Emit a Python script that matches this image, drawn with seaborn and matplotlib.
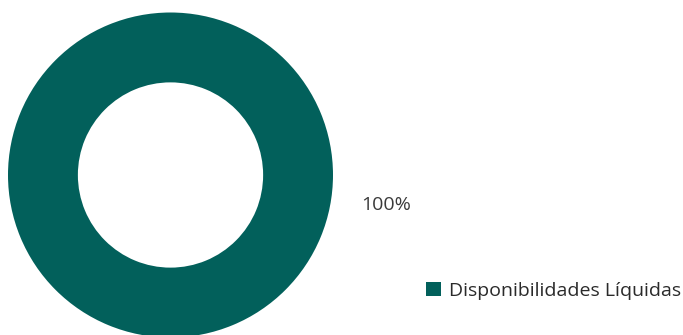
import matplotlib
matplotlib.use("Agg")
import matplotlib.pyplot as plt
import seaborn as sns

categories = ["Disponibilidades Líquidas"]
values = [100]
colors = ["#02605B"]

sns.set_theme(style="white")
plt.rcParams['font.family'] = ['Open Sans', 'DejaVu Sans']

fig = plt.figure(figsize=(6.83, 3.35), dpi=100)
W, H = 683, 335
ax = fig.add_axes([8 / W, -2.5 / H, 325 / W, 325 / H])
wedges, _ = ax.pie(values, colors=colors, radius=1, startangle=90, counterclock=False,
                   wedgeprops=dict(width=0.43, edgecolor="none"))
for w in wedges:
    w.set_clip_on(False)
ax.set_xlim(-1, 1)
ax.set_ylim(-1, 1)
ax.set_aspect("equal")
ax.axis("off")

total = sum(values)
fig.text(386 / W, (H - 205) / H, f"{values[0] / total * 100:.0f}%", ha="center", va="center",
         fontsize=14, color="#3a3a3a")

leg = fig.legend(wedges, categories, loc="center left", bbox_to_anchor=(426 / W, (H - 291) / H),
                 frameon=False, fontsize=14, handlelength=0.75, handleheight=0.75,
                 handletextpad=0.45, borderpad=0, borderaxespad=0, labelcolor="#2a2a2a")

fig.savefig("out.png", dpi=100, facecolor="white")
